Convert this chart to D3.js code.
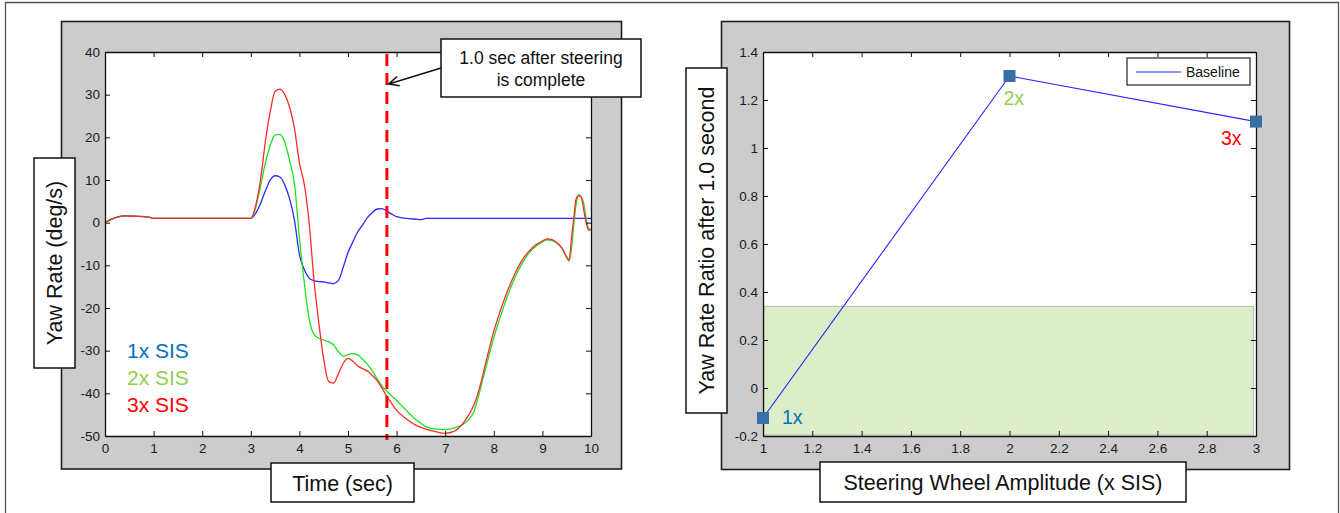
<!DOCTYPE html>
<html>
<head>
<meta charset="utf-8">
<script src="https://cdn.jsdelivr.net/npm/d3@7"></script>
<style>
  html, body { margin: 0; padding: 0; background: #fff; }
  svg { display: block; }
  text { font-family: "Liberation Sans", Arial, Helvetica, sans-serif; }
</style>
</head>
<body>
<svg id="chart" width="1340" height="513"></svg>
<script>
// ---- Yaw rate time histories (deg/s) for three steering amplitudes ----
const time = [0, 0.2, 0.4, 0.6, 0.9, 1.0, 2.0, 3.0, 3.1, 3.2, 3.3, 3.4, 3.5, 3.6, 3.7, 3.8, 3.9,
  4.0, 4.1, 4.2, 4.3, 4.4, 4.5, 4.6, 4.7, 4.8, 4.9, 5.0, 5.1, 5.2, 5.3, 5.4, 5.5, 5.6, 5.7, 5.8, 5.9,
  6.0, 6.2, 6.4, 6.5, 6.6, 6.8, 7.0, 7.2, 7.4, 7.6, 7.7, 7.8, 7.9, 8.0, 8.2, 8.4, 8.6, 8.8, 9.0,
  9.1, 9.2, 9.3, 9.4, 9.5, 9.55, 9.6, 9.65, 9.7, 9.75, 9.8, 9.85, 9.9, 9.95, 10.0];

const yaw1x = [0, 1.1, 1.6, 1.5, 1.3, 1.0, 1.0, 1.0, 2.2, 4.5, 7.5, 10.0, 11.0, 10.7, 8.8, 5.5, 0.5,
  -7.5, -11.0, -13.0, -13.6, -13.8, -13.9, -14.1, -14.3, -13.6, -10.5, -7.0, -4.5, -2.2, -0.5, 1.2, 2.4, 3.2, 3.3, 2.7, 2.0,
  1.4, 1.0, 0.8, 0.7, 1.0, 1.0, 1.0, 1.0, 1.0, 1.0, 1.0, 1.0, 1.0, 1.0, 1.0, 1.0, 1.0, 1.0, 1.0,
  1.0, 1.0, 1.0, 1.0, 1.0, 1.0, 1.0, 1.0, 1.0, 1.0, 1.0, 1.0, 1.0, 1.0, 1.0];

const yaw2x = [0, 1.1, 1.6, 1.5, 1.3, 1.0, 1.0, 1.0, 3.5, 8.5, 14.0, 18.1, 20.6, 20.7, 18.8, 14.5, 9.0,
  -3.5, -14.0, -22.5, -26.2, -27.1, -27.5, -27.9, -28.6, -30.2, -31.3, -30.9, -30.7, -31.0, -32.0, -33.2, -34.7, -36.6, -38.3, -39.5, -40.6,
  -41.7, -44.0, -46.2, -47.0, -47.8, -48.4, -48.5, -48.1, -47.0, -44.0, -40.0, -35.5, -31.2, -27.0, -19.8, -13.8, -9.2, -6.2, -4.5,
  -4.0, -4.2, -4.8, -6.0, -8.2, -9.0, -6.0, 0.0, 4.8, 6.6, 6.0, 4.5, 1.0, -1.3, -1.6];

const yaw3x = [0, 1.1, 1.6, 1.5, 1.3, 1.0, 1.0, 1.0, 4.0, 10.0, 19.0, 26.0, 30.8, 31.3, 30.0, 27.0, 22.0,
  14.0, 9.0, 0.0, -13.5, -23.5, -32.0, -37.2, -37.6, -35.5, -33.0, -31.8, -32.5, -33.6, -34.2, -34.8, -35.8, -37.0, -38.8, -40.7, -42.4,
  -44.0, -46.0, -47.5, -48.0, -48.4, -49.0, -49.4, -48.8, -46.5, -42.5, -39.0, -34.5, -29.8, -25.5, -18.5, -12.8, -8.5, -5.8, -4.3,
  -3.8, -4.0, -4.7, -5.9, -8.0, -8.8, -3.5, 1.5, 5.8, 6.3, 6.0, 3.0, 0.0, -1.8, -1.6];

const seriesNames = ["1x SIS", "2x SIS", "3x SIS"];
const lineColors = ["#2b2bff", "#1fe01f", "#ff2b2b"];
const legendColors = ["#0070c0", "#92d050", "#ff0000"];
const steeringCompleteTime = 5.8;

const timeTicks = [0, 1, 2, 3, 4, 5, 6, 7, 8, 9, 10];
const yawTicks = [40, 30, 20, 10, 0, -10, -20, -30, -40, -50];

// ---- Yaw rate ratio one second after steering ----
const amplitude = [1, 2, 3];
const ratio = [-0.125, 1.30, 1.11];
const pointLabels = ["1x", "2x", "3x"];
const ratioBand = [-0.2, 0.34];
const amplitudeTicks = [1, 1.2, 1.4, 1.6, 1.8, 2, 2.2, 2.4, 2.6, 2.8, 3];
const ratioTicks = [-0.2, 0, 0.2, 0.4, 0.6, 0.8, 1, 1.2, 1.4];

const svg = d3.select("#chart");
const FONT_TICK = 13.5;

// outer frame (left / top / right edges)
svg.append("path")
  .attr("d", "M5.5,513 V2.5 H1338.5 V513")
  .attr("fill", "none").attr("stroke", "#555").attr("stroke-width", 1.3);

function labelBox(g, x0, y0, x1, y1) {
  g.append("rect").attr("x", x0).attr("y", y0).attr("width", x1 - x0).attr("height", y1 - y0)
    .attr("fill", "#fff").attr("stroke", "#111").attr("stroke-width", 1.5);
}

function tickText(sel) {
  sel.selectAll("text").attr("font-size", FONT_TICK).attr("fill", "#1a1a1a")
    .attr("font-family", "'Liberation Sans', Arial, sans-serif");
  sel.selectAll("line").attr("stroke", "#111");
  sel.select(".domain").attr("stroke", "#111").attr("stroke-width", 1.3);
}

function fmt(d) { return String(+d.toFixed(1)).replace("\u2212", "-"); }

function drawPlotArea(g, x, y) {
  const [x0, x1] = x.range();
  const [y0, y1] = y.range();
  g.append("rect").attr("x", x0).attr("y", y1).attr("width", x1 - x0).attr("height", y0 - y1).attr("fill", "#fff");
}

function drawAxes(g, x, y, xt, yt) {
  const [x0, x1] = x.range();
  const [y0, y1] = y.range();
  g.append("g").attr("transform", `translate(0,${y0})`)
    .call(d3.axisBottom(x).tickValues(xt).tickFormat(fmt).tickSizeInner(-5).tickSizeOuter(0).tickPadding(7))
    .call(tickText);
  g.append("g").attr("transform", `translate(0,${y1})`)
    .call(d3.axisTop(x).tickValues(xt).tickFormat("").tickSizeInner(-5).tickSizeOuter(0))
    .call(tickText);
  g.append("g").attr("transform", `translate(${x0},0)`)
    .call(d3.axisLeft(y).tickValues(yt).tickFormat(fmt).tickSizeInner(-5).tickSizeOuter(0).tickPadding(5))
    .call(tickText);
  g.append("g").attr("transform", `translate(${x1},0)`)
    .call(d3.axisRight(y).tickValues(yt).tickFormat("").tickSizeInner(-5).tickSizeOuter(0))
    .call(tickText);
}

// ================= Left panel: yaw rate vs time =================
{
  const g = svg.append("g");
  g.append("rect").attr("x", 61.5).attr("y", 21.5).attr("width", 560).attr("height", 447.5)
    .attr("fill", "#cccccc").attr("stroke", "#1e1e1e").attr("stroke-width", 1.6);

  const x = d3.scaleLinear().domain([0, 10]).range([105, 591]);
  const y = d3.scaleLinear().domain([-50, 40]).range([436, 52]);
  drawPlotArea(g, x, y);

  const line = d3.line().x((d, i) => x(time[i])).y(d => y(d)).curve(d3.curveMonotoneX);
  [yaw1x, yaw2x, yaw3x].forEach((vals, k) => {
    g.append("path").datum(vals).attr("d", line)
      .attr("fill", "none").attr("stroke", lineColors[k]).attr("stroke-width", 1.3);
  });

  // moment 1.0 s after steering completes
  g.append("line")
    .attr("x1", x(steeringCompleteTime)).attr("x2", x(steeringCompleteTime))
    .attr("y1", y(40) + 2).attr("y2", y(-50) + 4)
    .attr("stroke", "#ff0000").attr("stroke-width", 3).attr("stroke-dasharray", "12,7");

  drawAxes(g, x, y, timeTicks, yawTicks);

  // series legend as coloured text
  seriesNames.forEach((name, k) => {
    g.append("text").attr("x", 127).attr("y", 358 + k * 27)
      .attr("font-size", 21).attr("fill", legendColors[k]).text(name);
  });

  // callout box and arrow
  labelBox(g, 441, 39, 641, 97);
  g.append("text").attr("x", 541).attr("y", 64).attr("text-anchor", "middle")
    .attr("font-size", 17.5).attr("fill", "#111").text("1.0 sec after steering");
  g.append("text").attr("x", 541).attr("y", 86).attr("text-anchor", "middle")
    .attr("font-size", 17.5).attr("fill", "#111").text("is complete");
  const tip = [x(steeringCompleteTime) + 2, y(32.5)];
  const tail = [441, 68];
  const ang = Math.atan2(tail[1] - tip[1], tail[0] - tip[0]);
  const hl = 11, spread = 0.45;
  const h1 = [tip[0] + hl * Math.cos(ang + spread), tip[1] + hl * Math.sin(ang + spread)];
  const h2 = [tip[0] + hl * Math.cos(ang - spread), tip[1] + hl * Math.sin(ang - spread)];
  g.append("path")
    .attr("d", `M${tail[0]},${tail[1]} L${tip[0]},${tip[1]} M${h1[0]},${h1[1]} L${tip[0]},${tip[1]} L${h2[0]},${h2[1]}`)
    .attr("fill", "none").attr("stroke", "#111").attr("stroke-width", 1.6);

  // axis titles
  labelBox(g, 34, 158, 75, 368);
  g.append("text").attr("transform", "translate(62,263) rotate(-90)").attr("text-anchor", "middle")
    .attr("font-size", 21.5).attr("fill", "#111").text("Yaw Rate (deg/s)");
  labelBox(g, 271, 463, 414, 502);
  g.append("text").attr("x", 342.5).attr("y", 491).attr("text-anchor", "middle")
    .attr("font-size", 21.5).attr("fill", "#111").text("Time (sec)");
}

// ================= Right panel: ratio vs steering amplitude =================
{
  const g = svg.append("g");
  g.append("rect").attr("x", 721.5).attr("y", 21.5).attr("width", 568).attr("height", 448)
    .attr("fill", "#cccccc").attr("stroke", "#1e1e1e").attr("stroke-width", 1.6);

  const x = d3.scaleLinear().domain([1, 3]).range([763, 1256]);
  const y = d3.scaleLinear().domain([-0.2, 1.4]).range([436, 52]);
  drawPlotArea(g, x, y);

  // acceptable range band
  g.append("rect")
    .attr("x", x(1) + 1).attr("y", y(ratioBand[1]))
    .attr("width", x(2.99) - x(1) - 1).attr("height", y(ratioBand[0]) - y(ratioBand[1]) - 1)
    .attr("fill", "#dcedc8").attr("stroke", "#b9bdb4").attr("stroke-width", 1);

  const line = d3.line().x((d, i) => x(amplitude[i])).y(d => y(d));
  g.append("path").datum(ratio).attr("d", line)
    .attr("fill", "none").attr("stroke", "#2323ff").attr("stroke-width", 1.1);

  drawAxes(g, x, y, amplitudeTicks, ratioTicks);

  g.selectAll("rect.pt").data(ratio).join("rect").attr("class", "pt")
    .attr("x", (d, i) => x(amplitude[i]) - 6).attr("y", d => y(d) - 6)
    .attr("width", 12).attr("height", 12).attr("fill", "#3a6ea6");

  const labelOffsets = [[19, 6], [-6, 29], [-35, 23]];
  g.selectAll("text.pl").data(ratio).join("text").attr("class", "pl")
    .attr("x", (d, i) => x(amplitude[i]) + labelOffsets[i][0])
    .attr("y", (d, i) => y(d) + labelOffsets[i][1])
    .attr("font-size", 19.5)
    .attr("fill", (d, i) => legendColors[i])
    .text((d, i) => pointLabels[i]);

  // legend
  g.append("rect").attr("x", 1127).attr("y", 58).attr("width", 123).attr("height", 27)
    .attr("fill", "#fff").attr("stroke", "#333").attr("stroke-width", 1.3);
  g.append("line").attr("x1", 1136).attr("x2", 1181).attr("y1", 72).attr("y2", 72)
    .attr("stroke", "#2323ff").attr("stroke-width", 1.1);
  g.append("text").attr("x", 1186).attr("y", 77).attr("font-size", 14)
    .attr("fill", "#111").text("Baseline");

  // axis titles
  labelBox(g, 686, 68, 727, 413);
  g.append("text").attr("transform", "translate(714,240.5) rotate(-90)").attr("text-anchor", "middle")
    .attr("font-size", 21.5).attr("fill", "#111").text("Yaw Rate Ratio after 1.0 second");
  labelBox(g, 820, 462, 1186, 502);
  g.append("text").attr("x", 1003).attr("y", 490).attr("text-anchor", "middle")
    .attr("font-size", 21.5).attr("fill", "#111").text("Steering Wheel Amplitude (x SIS)");
}
</script>
</body>
</html>
